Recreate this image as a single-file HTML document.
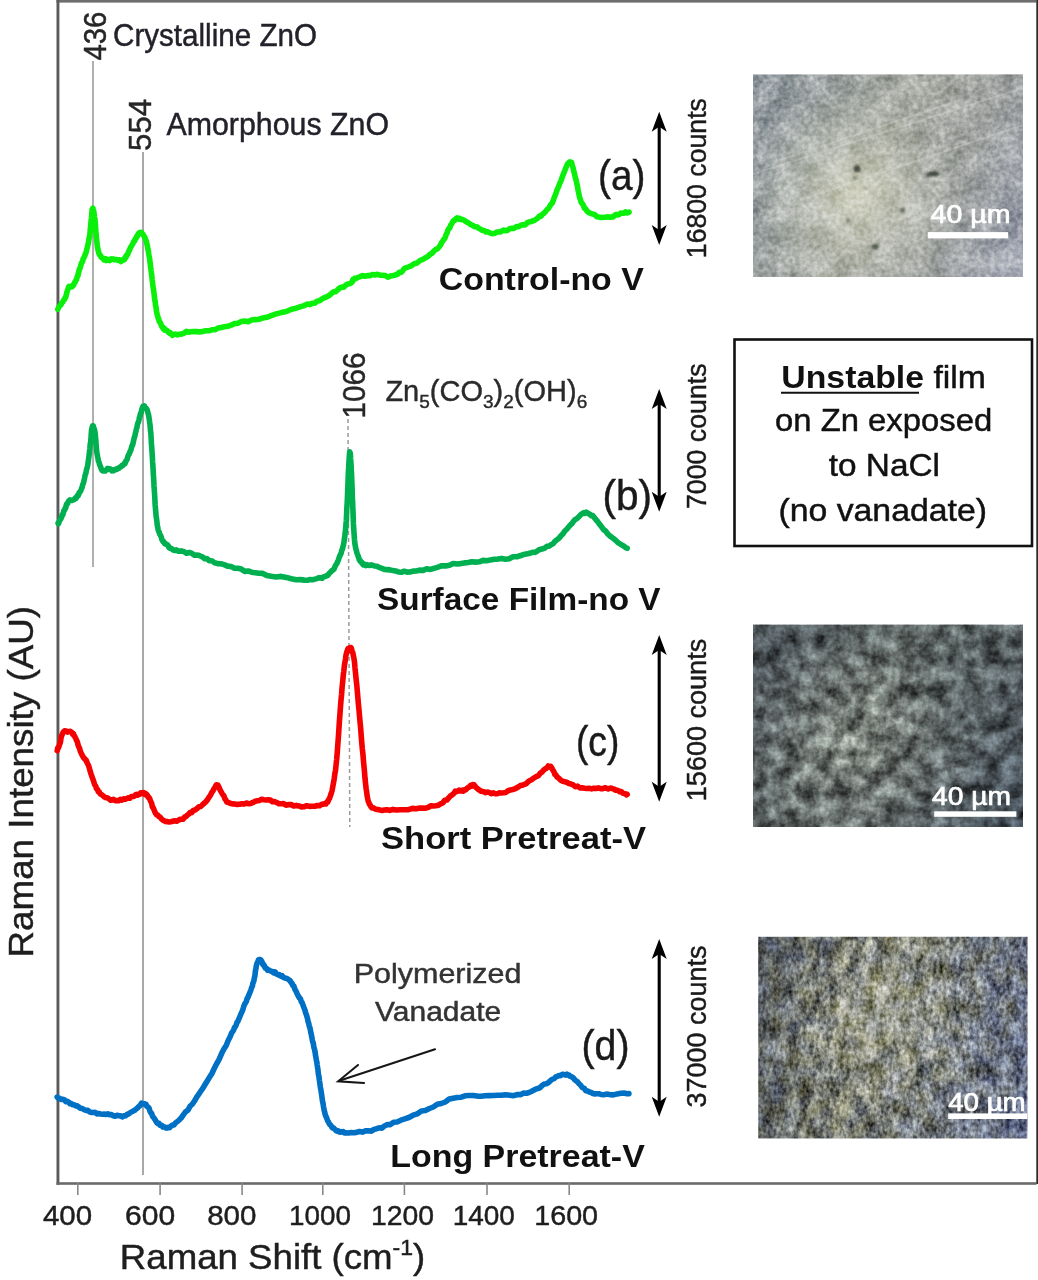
<!DOCTYPE html>
<html><head><meta charset="utf-8"><style>
html,body{margin:0;padding:0;background:#fff;}
svg{display:block;filter:blur(0.45px);}
text{font-family:"Liberation Sans",sans-serif;}
</style></head><body>
<svg width="1038" height="1280" viewBox="0 0 1038 1280">
<defs>
<linearGradient id="g1" gradientUnits="userSpaceOnUse" x1="753" y1="120" x2="1023" y2="230">
<stop offset="0" stop-color="#939ba0"/><stop offset="0.45" stop-color="#a5a8a0"/><stop offset="0.75" stop-color="#a2a5a3"/><stop offset="1" stop-color="#9da1ad"/></linearGradient>
<radialGradient id="l1" gradientUnits="userSpaceOnUse" cx="855" cy="195" r="110">
<stop offset="0" stop-color="#dcdcc6" stop-opacity="0.75"/><stop offset="0.6" stop-color="#d0d2c2" stop-opacity="0.35"/><stop offset="1" stop-color="#c8cac0" stop-opacity="0"/></radialGradient>
<linearGradient id="g2" gradientUnits="userSpaceOnUse" x1="753" y1="640" x2="1023" y2="810">
<stop offset="0" stop-color="#4c5459"/><stop offset="0.4" stop-color="#5c6462"/><stop offset="0.7" stop-color="#555d5f"/><stop offset="1" stop-color="#48525b"/></linearGradient>
<radialGradient id="l2" gradientUnits="userSpaceOnUse" cx="860" cy="745" r="120">
<stop offset="0" stop-color="#a0a498" stop-opacity="0.45"/><stop offset="1" stop-color="#a0a498" stop-opacity="0"/></radialGradient>
<linearGradient id="g3" gradientUnits="userSpaceOnUse" x1="758" y1="1000" x2="1027" y2="1080">
<stop offset="0" stop-color="#575c60"/><stop offset="0.4" stop-color="#77796e"/><stop offset="0.7" stop-color="#717679"/><stop offset="1" stop-color="#687188"/></linearGradient>
<radialGradient id="l3" gradientUnits="userSpaceOnUse" cx="880" cy="1020" r="120">
<stop offset="0" stop-color="#c8c8b0" stop-opacity="0.45"/><stop offset="1" stop-color="#c8c8b0" stop-opacity="0"/></radialGradient>
<filter id="blur1" x="-1" y="-1" width="3" height="3"><feGaussianBlur stdDeviation="1.2"/></filter>
<filter id="f1" x="0" y="0" width="1" height="1" color-interpolation-filters="sRGB">
<feTurbulence type="fractalNoise" baseFrequency="0.04" numOctaves="3" seed="3" result="t1"/>
<feColorMatrix in="t1" type="matrix" values="0.9 0 0 0 0.05  0.9 0 0 0 0.05  0.9 0 0 0 0.05  0 0 0 0 1" result="n1"/>
<feTurbulence type="fractalNoise" baseFrequency="0.22" numOctaves="2" seed="8" result="t2"/>
<feColorMatrix in="t2" type="matrix" values="0.9 0 0 0 0.05  0.9 0 0 0 0.05  0.9 0 0 0 0.05  0 0 0 0 1" result="n2"/>
<feComposite in="n1" in2="n2" operator="arithmetic" k1="0" k2="0.5" k3="0.5" k4="0.0" result="n"/>
<feGaussianBlur in="n" stdDeviation="0.7" result="nb"/>
<feBlend in="nb" in2="SourceGraphic" mode="overlay"/></filter>
<filter id="f2" x="0" y="0" width="1" height="1" color-interpolation-filters="sRGB">
<feTurbulence type="fractalNoise" baseFrequency="0.06" numOctaves="2" seed="8" result="t1"/>
<feColorMatrix in="t1" type="matrix" values="1.8 0 0 0 -0.4  1.8 0 0 0 -0.4  1.8 0 0 0 -0.4  0 0 0 0 1" result="n1"/>
<feTurbulence type="fractalNoise" baseFrequency="0.25" numOctaves="2" seed="13" result="t2"/>
<feColorMatrix in="t2" type="matrix" values="1.0 0 0 0 0.0  1.0 0 0 0 0.0  1.0 0 0 0 0.0  0 0 0 0 1" result="n2"/>
<feComposite in="n1" in2="n2" operator="arithmetic" k1="0" k2="0.55" k3="0.4" k4="0.025" result="n"/>
<feGaussianBlur in="n" stdDeviation="0.6" result="nb"/>
<feBlend in="nb" in2="SourceGraphic" mode="overlay"/></filter>
<filter id="f3" x="0" y="0" width="1" height="1" color-interpolation-filters="sRGB">
<feTurbulence type="fractalNoise" baseFrequency="0.08 0.05" numOctaves="3" seed="12" result="t1"/>
<feColorMatrix in="t1" type="matrix" values="1.4 0 0 0 -0.2  1.4 0 0 0 -0.2  1.4 0 0 0 -0.2  0 0 0 0 1" result="n1"/>
<feTurbulence type="fractalNoise" baseFrequency="0.3 0.22" numOctaves="2" seed="17" result="t2"/>
<feColorMatrix in="t2" type="matrix" values="1.3 0 0 0 -0.15  1.3 0 0 0 -0.15  1.3 0 0 0 -0.15  0 0 0 0 1" result="n2"/>
<feComposite in="n1" in2="n2" operator="arithmetic" k1="0" k2="0.55" k3="0.55" k4="-0.05" result="n"/>
<feGaussianBlur in="n" stdDeviation="0.5" result="nb"/>
<feBlend in="nb" in2="SourceGraphic" mode="overlay" result="b1"/><feTurbulence type="fractalNoise" baseFrequency="0.06" numOctaves="2" seed="41" result="t3"/><feColorMatrix in="t3" type="matrix" values="0.22 0 0 0 0.39  0.14 0 0 0 0.43  -0.28 0 0 0 0.64  0 0 0 0 1" result="c3"/><feBlend in="c3" in2="b1" mode="soft-light"/></filter>
</defs>
<rect width="1038" height="1280" fill="#fff"/>
<rect x="56.5" y="0" width="980" height="2.6" fill="#6e6e6e"/>
<rect x="56.5" y="0" width="2.9" height="1184.8" fill="#5a5a5a"/>
<rect x="56.5" y="1182.2" width="980" height="2.6" fill="#6a6a6a"/>
<rect x="1036.3" y="0" width="1.7" height="1184" fill="#2a2a2a"/>
<line x1="77.8" y1="1183" x2="77.8" y2="1195" stroke="#888" stroke-width="1.6"/>
<line x1="160.1" y1="1183" x2="160.1" y2="1195" stroke="#888" stroke-width="1.6"/>
<line x1="242.1" y1="1183" x2="242.1" y2="1195" stroke="#888" stroke-width="1.6"/>
<line x1="322.8" y1="1183" x2="322.8" y2="1195" stroke="#888" stroke-width="1.6"/>
<line x1="404.4" y1="1183" x2="404.4" y2="1195" stroke="#888" stroke-width="1.6"/>
<line x1="487" y1="1183" x2="487" y2="1195" stroke="#888" stroke-width="1.6"/>
<line x1="569.2" y1="1183" x2="569.2" y2="1195" stroke="#888" stroke-width="1.6"/>
<line x1="93" y1="61" x2="93" y2="567" stroke="#a8a8a8" stroke-width="1.8"/>
<line x1="143" y1="152" x2="143" y2="1175" stroke="#a0a0a0" stroke-width="1.8"/>
<line x1="348" y1="419" x2="349.8" y2="827" stroke="#9a9a9a" stroke-width="1.5" stroke-dasharray="4,3"/>
<polyline points="57.8,309.3 58.1,308.7 58.6,307.5 59.1,306.5 59.7,306.1 60.3,305.1 60.9,304.9 61.5,303.3 62.0,302.8 62.5,302.2 62.9,302.1 63.4,300.8 63.8,299.8 64.3,299.8 64.7,298.9 65.1,297.5 65.5,297.7 65.9,296.7 66.2,295.2 66.6,294.1 66.9,291.8 67.3,291.1 67.6,290.2 68.0,288.8 68.5,287.6 69.0,286.4 69.6,286.5 70.2,286.6 70.8,287.0 71.4,287.0 72.0,286.0 72.6,286.3 73.2,284.8 73.8,284.9 74.3,283.6 74.9,281.8 75.4,281.8 75.9,280.2 76.4,279.7 76.9,278.3 77.3,276.2 77.7,276.0 78.0,275.6 78.2,273.6 78.5,272.7 78.7,272.5 79.0,270.4 79.3,270.0 79.6,268.4 80.0,268.4 80.4,267.0 80.8,265.3 81.3,263.6 81.7,262.8 82.2,261.9 82.7,261.4 83.1,258.9 83.5,258.4 84.0,257.6 84.4,256.3 84.9,255.6 85.3,254.0 85.8,253.5 86.2,251.7 86.6,250.2 87.0,248.5 87.4,247.1 87.8,245.1 88.2,243.7 88.6,241.4 89.0,239.4 89.3,237.5 89.6,236.2 89.9,234.2 90.1,231.6 90.3,228.7 90.5,227.4 90.7,225.2 90.9,223.1 91.1,220.8 91.3,219.0 91.5,217.3 91.7,214.8 91.8,212.8 92.0,211.7 92.1,209.6 92.3,209.4 92.5,208.7 92.7,208.5 92.9,208.3 93.2,209.5 93.4,210.0 93.7,211.1 94.0,213.0 94.3,215.3 94.5,217.1 94.8,218.9 95.0,219.9 95.3,223.3 95.5,225.9 95.7,229.1 95.9,232.4 96.2,234.2 96.4,237.6 96.6,238.9 96.8,241.0 97.0,243.7 97.2,244.6 97.4,246.8 97.6,247.0 97.8,248.4 98.1,250.5 98.4,250.6 98.7,252.5 99.1,254.0 99.5,254.3 99.9,255.4 100.3,255.1 100.8,256.7 101.3,257.3 101.9,257.8 102.5,258.0 103.2,258.4 103.9,259.8 104.7,258.5 105.4,258.8 106.2,260.5 107.0,259.4 107.7,259.4 108.4,259.6 109.1,260.5 109.8,260.6 110.5,259.1 111.2,259.6 112.0,258.9 112.8,259.1 113.6,259.1 114.5,259.8 115.6,259.6 116.7,259.5 117.8,260.3 118.9,259.8 119.9,260.1 120.9,261.5 121.8,260.1 122.6,260.1 123.2,260.3 123.8,260.0 124.4,259.6 124.9,257.7 125.4,257.8 125.9,257.5 126.5,255.2 127.1,255.2 127.7,254.4 128.3,252.4 128.8,251.1 129.4,250.4 130.0,248.9 130.6,247.2 131.2,246.6 131.8,245.4 132.4,244.5 133.0,243.4 133.5,242.0 134.1,241.0 134.7,240.8 135.3,238.9 135.9,238.5 136.5,236.7 137.1,236.9 137.7,235.2 138.3,233.8 138.8,233.4 139.4,232.7 140.0,233.4 140.6,232.3 141.2,232.3 141.8,232.7 142.4,234.2 143.0,234.3 143.6,235.2 144.1,236.3 144.7,237.0 145.2,238.3 145.7,240.1 146.2,240.7 146.7,242.8 147.1,245.0 147.6,246.9 148.0,249.6 148.4,251.3 148.8,254.2 149.1,255.8 149.5,257.7 149.8,259.9 150.0,262.6 150.3,264.4 150.6,267.0 150.8,268.3 151.1,271.1 151.4,273.0 151.7,275.1 152.0,277.8 152.2,280.0 152.5,282.3 152.8,284.8 153.1,287.2 153.4,288.8 153.7,290.7 154.0,293.3 154.3,296.1 154.6,298.5 154.9,300.7 155.2,301.8 155.5,305.2 155.8,306.5 156.1,307.4 156.3,310.0 156.6,312.0 156.8,312.5 157.1,314.3 157.4,315.1 157.7,316.2 158.1,318.3 158.6,318.5 159.1,321.1 159.6,321.9 160.2,322.5 160.8,323.7 161.5,325.7 162.1,327.1 162.8,327.0 163.5,329.0 164.2,328.3 164.9,330.2 165.7,330.0 166.4,330.0 167.2,330.8 168.0,331.6 168.7,332.6 169.4,333.2 170.0,332.5 170.5,333.6 171.1,334.3 171.7,334.2 172.5,335.3 173.4,334.6 174.5,334.2 175.8,334.1 177.3,334.9 178.8,334.2 180.5,334.3 182.4,333.8 184.3,333.2 186.4,331.3 188.7,332.1 191.1,331.8 193.8,331.6 196.6,331.6 199.5,331.9 202.5,331.4 205.6,330.8 208.7,330.8 211.8,329.8 214.9,329.8 218.0,328.1 221.2,327.4 224.5,326.7 227.8,326.3 231.1,325.2 234.5,323.6 237.9,323.2 241.3,321.5 244.7,321.1 248.2,321.8 251.6,320.1 255.2,319.6 258.9,319.2 262.8,318.0 266.8,317.3 271.2,315.7 276.1,313.9 281.2,312.6 286.4,311.5 291.5,309.2 296.3,308.2 300.6,306.6 304.3,305.6 307.3,304.1 309.8,304.6 311.8,303.3 313.5,303.4 315.1,303.0 316.6,301.4 318.2,301.0 320.0,300.5 321.9,299.1 323.9,297.8 325.8,297.3 327.7,296.3 329.6,295.1 331.6,293.4 333.5,291.8 335.4,291.7 337.4,290.1 339.5,288.1 341.7,287.1 343.8,287.2 345.9,285.1 347.8,284.1 349.4,283.8 350.8,283.2 351.7,282.4 352.3,281.8 352.5,281.4 352.6,280.9 352.7,280.0 353.0,279.4 353.6,279.9 354.7,278.2 356.2,278.5 358.1,277.3 360.2,276.6 362.5,275.6 365.0,276.3 367.5,275.6 370.0,275.6 372.4,274.6 374.8,275.0 377.4,274.3 380.0,275.2 382.6,275.3 385.2,275.5 387.8,277.2 390.2,276.1 392.4,275.7 394.4,275.3 396.1,274.8 397.7,274.1 399.2,272.3 400.8,272.4 402.4,271.2 404.2,268.5 406.3,267.6 408.7,266.8 411.3,265.8 414.2,263.7 417.1,263.0 420.0,260.5 422.9,259.3 425.5,257.7 427.9,256.5 430.1,254.2 432.1,253.2 434.0,250.9 435.8,249.4 437.4,248.8 439.0,247.0 440.4,245.2 441.7,242.4 442.8,241.0 443.7,239.6 444.5,238.8 445.2,237.4 445.8,235.5 446.4,234.1 447.1,232.8 447.9,230.1 448.8,228.6 449.7,228.2 450.7,225.2 451.7,223.8 452.6,222.0 453.6,220.5 454.6,220.7 455.6,219.0 456.5,218.2 457.3,217.8 458.1,218.5 459.0,219.1 459.8,218.5 460.8,219.5 462.0,219.3 463.3,219.9 464.9,220.8 466.6,221.9 468.6,222.9 470.6,224.5 472.7,225.4 474.7,226.8 476.8,226.8 478.7,228.3 480.6,229.2 482.4,230.4 484.2,230.6 486.0,231.9 487.8,231.9 489.6,232.7 491.4,233.5 493.2,233.6 495.0,233.3 496.7,232.1 498.5,232.0 500.2,232.0 502.0,231.0 503.8,230.1 505.7,230.8 507.6,230.3 509.7,228.7 511.8,228.3 514.0,228.4 516.3,226.6 518.6,226.8 520.8,225.3 522.9,224.8 525.0,224.9 527.0,222.9 528.9,222.0 530.7,221.7 532.6,220.9 534.3,220.5 536.1,219.2 537.8,218.1 539.4,216.0 541.0,216.2 542.6,214.1 544.1,213.1 545.6,211.5 547.0,209.5 548.4,208.6 549.7,206.4 551.0,204.3 552.2,203.0 553.3,200.5 554.4,197.0 555.4,194.9 556.5,191.7 557.5,188.9 558.6,186.6 559.7,183.4 560.9,181.0 562.2,177.3 563.6,173.6 564.9,170.4 566.3,166.8 567.6,163.9 568.7,162.9 569.8,161.9 570.7,162.3 571.5,162.2 572.3,165.2 572.9,167.2 573.5,170.0 574.2,172.7 574.8,175.2 575.5,178.1 576.2,180.4 576.8,183.9 577.5,186.2 578.1,190.6 578.8,193.4 579.5,197.1 580.4,199.5 581.3,202.6 582.3,203.5 583.4,205.4 584.6,208.4 585.8,209.2 587.1,211.1 588.5,212.4 589.9,213.0 591.4,213.8 593.0,214.1 594.8,214.7 596.6,216.5 598.6,217.1 600.5,217.4 602.4,217.5 604.2,217.3 605.9,217.2 607.5,216.8 609.0,217.1 610.5,217.0 611.9,217.1 613.3,216.7 614.7,215.3 616.1,214.4 617.5,215.0 619.0,214.6 620.7,213.1 622.3,213.3 624.0,213.3 625.5,211.8 626.9,212.9 628.1,212.7 629.0,212.1" fill="none" stroke="#0af00a" stroke-width="5.6" stroke-linejoin="round" stroke-linecap="round"/>
<polyline points="58.1,523.2 58.4,523.8 58.8,522.9 59.3,521.1 59.8,520.5 60.4,519.4 60.9,518.6 61.4,517.8 61.9,515.7 62.3,514.6 62.7,515.0 63.1,513.4 63.4,513.0 63.8,510.8 64.2,510.6 64.6,510.1 65.0,508.4 65.4,508.5 65.9,507.4 66.3,505.0 66.8,503.9 67.3,503.7 67.7,503.4 68.3,501.8 68.8,500.8 69.4,500.7 70.0,499.9 70.6,500.1 71.3,500.4 71.9,500.5 72.6,500.0 73.2,499.9 73.8,499.6 74.4,499.5 74.9,498.7 75.5,497.7 76.0,498.4 76.6,497.3 77.1,496.7 77.6,495.3 78.1,495.8 78.6,494.8 79.1,492.8 79.6,492.3 80.1,492.0 80.5,491.0 81.0,490.4 81.5,488.5 81.9,488.0 82.3,486.6 82.7,484.7 83.1,483.8 83.5,482.9 83.9,481.4 84.2,479.4 84.6,478.0 85.0,475.6 85.4,474.3 85.8,473.6 86.2,471.4 86.6,469.3 87.0,468.2 87.4,466.7 87.8,464.8 88.1,462.3 88.4,460.3 88.7,458.2 89.0,456.2 89.3,453.4 89.6,450.8 89.9,448.5 90.1,445.4 90.4,443.1 90.7,441.7 90.9,439.6 91.1,436.3 91.3,433.3 91.5,430.5 91.8,429.0 92.0,428.1 92.3,426.7 92.6,425.9 92.9,426.4 93.3,425.9 93.6,427.1 94.0,428.8 94.4,429.5 94.7,430.8 95.0,432.1 95.3,434.5 95.5,437.5 95.7,438.6 96.0,442.6 96.2,445.5 96.4,448.4 96.6,450.7 96.9,453.0 97.2,454.4 97.5,456.1 97.7,457.4 98.0,458.2 98.3,460.8 98.7,461.6 99.0,462.1 99.4,463.8 99.8,465.0 100.2,465.9 100.7,467.1 101.1,468.5 101.6,469.6 102.1,470.4 102.6,470.8 103.1,470.5 103.6,471.0 104.1,470.8 104.6,471.0 105.2,471.0 105.7,470.3 106.3,469.8 106.9,469.5 107.5,468.4 108.1,469.4 108.8,469.3 109.5,468.7 110.2,468.9 110.9,469.3 111.7,470.8 112.4,470.2 113.1,470.0 113.8,470.7 114.5,470.1 115.2,469.4 115.9,469.2 116.7,469.4 117.4,468.4 118.1,468.2 118.8,468.4 119.5,467.6 120.2,467.0 121.0,466.8 121.7,465.6 122.4,465.6 123.1,465.1 123.8,464.1 124.4,463.2 125.0,463.6 125.6,462.0 126.1,460.5 126.7,460.1 127.2,459.3 127.7,456.8 128.3,455.5 128.8,454.4 129.3,454.0 129.9,451.7 130.4,451.1 131.0,449.6 131.5,447.8 132.0,445.6 132.6,445.1 133.1,443.0 133.6,440.6 134.2,437.9 134.8,436.4 135.3,433.7 135.9,431.6 136.4,428.9 137.0,427.2 137.5,424.3 138.0,422.7 138.5,421.9 139.0,419.8 139.5,417.1 140.0,416.2 140.4,413.7 140.9,413.3 141.3,411.7 141.7,410.1 142.0,408.8 142.4,407.6 142.7,408.2 143.0,406.3 143.3,407.2 143.6,407.1 144.0,406.4 144.4,405.9 144.8,407.2 145.3,407.8 145.8,408.0 146.2,408.4 146.7,409.0 147.1,409.9 147.5,410.8 147.9,412.8 148.2,413.7 148.5,414.8 148.8,416.3 149.2,418.9 149.4,420.3 149.7,422.7 150.0,424.7 150.3,428.1 150.5,430.9 150.8,432.5 151.0,435.9 151.2,439.4 151.4,443.8 151.7,446.9 151.9,449.7 152.1,453.2 152.4,457.7 152.6,461.9 152.9,466.1 153.1,469.2 153.3,474.1 153.6,477.8 153.8,481.3 154.0,485.9 154.2,488.5 154.5,493.0 154.7,495.8 154.9,499.5 155.1,504.2 155.3,506.4 155.6,510.4 155.9,513.0 156.1,516.1 156.4,517.9 156.7,520.2 157.0,522.4 157.3,525.5 157.7,527.0 158.1,529.5 158.6,531.2 159.1,531.7 159.6,533.9 160.1,534.6 160.7,535.8 161.3,537.1 161.9,539.5 162.5,540.5 163.1,541.5 163.7,541.6 164.2,542.7 164.8,543.7 165.5,543.6 166.1,544.5 166.8,544.6 167.5,544.9 168.2,545.8 168.8,547.4 169.4,547.4 170.0,548.5 170.8,548.3 171.7,548.6 172.9,549.9 174.4,550.5 176.3,549.8 178.6,551.3 181.1,550.9 183.8,551.5 186.6,553.3 189.4,552.5 192.0,553.4 194.5,555.3 196.7,555.1 198.8,555.3 200.8,556.2 202.8,557.1 204.8,558.8 206.9,558.6 209.2,560.8 211.8,560.8 214.6,562.7 217.6,563.6 220.8,563.7 224.1,564.6 227.5,566.1 231.0,566.5 234.4,568.3 237.9,568.3 241.3,569.1 244.7,571.4 248.2,571.0 251.6,572.2 255.2,572.7 258.9,573.2 262.8,573.4 266.8,575.5 271.2,576.3 276.0,577.0 281.1,576.4 286.3,577.4 291.3,578.7 296.1,579.8 300.5,579.6 304.3,580.1 307.5,580.2 310.3,579.5 312.7,579.7 314.9,579.1 316.8,578.6 318.6,577.9 320.3,577.7 322.0,578.3 323.7,576.8 325.2,576.5 326.6,575.7 327.9,575.3 329.0,573.6 330.2,572.5 331.2,571.4 332.3,570.3 333.3,569.9 334.2,568.7 335.1,566.3 335.9,564.9 336.7,563.7 337.4,562.2 338.1,560.7 338.8,558.6 339.4,556.8 340.0,555.7 340.6,554.1 341.1,553.4 341.6,551.2 342.0,549.7 342.5,549.0 342.9,546.7 343.3,545.7 343.7,543.4 344.0,542.1 344.3,539.1 344.6,537.5 344.9,535.8 345.2,532.1 345.5,530.7 345.8,526.3 346.0,523.9 346.3,520.5 346.5,516.3 346.7,511.5 346.9,507.2 347.1,503.9 347.3,500.7 347.5,495.8 347.6,492.8 347.8,487.6 347.9,484.9 348.1,479.6 348.2,476.4 348.3,473.8 348.5,470.5 348.7,467.6 348.8,464.4 349.0,461.2 349.2,458.3 349.4,455.1 349.5,453.6 349.7,451.9 349.9,452.3 350.1,452.7 350.3,453.3 350.4,454.9 350.6,458.7 350.8,461.3 351.0,463.9 351.1,467.0 351.3,470.6 351.5,473.1 351.6,476.5 351.8,480.1 351.9,483.9 352.1,487.5 352.2,492.5 352.3,496.0 352.5,500.1 352.7,503.1 352.8,507.6 353.0,511.2 353.1,515.2 353.3,519.3 353.4,523.9 353.6,526.7 353.8,529.8 354.0,533.0 354.1,534.9 354.3,536.8 354.5,539.7 354.7,541.6 354.9,543.6 355.2,545.1 355.5,547.3 355.9,549.2 356.3,550.1 356.7,552.1 357.2,553.7 357.7,554.8 358.2,556.4 358.8,557.9 359.3,559.7 359.8,560.7 360.3,560.6 360.7,562.0 361.2,561.7 361.8,562.4 362.4,563.6 363.1,564.7 364.0,564.0 365.0,565.2 366.0,565.6 367.2,564.7 368.4,565.3 369.7,565.5 371.2,564.8 372.9,565.5 374.8,565.9 376.9,566.2 379.2,567.4 381.8,568.3 384.4,569.4 387.2,569.6 390.0,569.9 392.9,570.6 395.7,571.0 398.5,571.9 401.3,572.3 404.2,571.2 407.1,572.1 410.1,572.0 413.1,571.1 416.3,571.0 419.6,570.1 423.1,570.4 426.7,568.7 430.4,569.4 434.2,568.3 438.0,567.1 441.9,565.7 445.7,565.9 449.5,565.3 453.2,563.5 457.0,564.0 460.7,563.6 464.4,562.9 468.1,562.5 471.8,561.7 475.6,562.1 479.3,561.8 483.0,560.4 486.8,560.8 490.5,559.9 494.2,559.2 498.0,559.1 501.7,558.4 505.5,559.2 509.2,558.7 513.0,556.7 517.0,556.7 520.9,555.5 524.9,554.2 528.8,553.5 532.5,552.4 535.9,552.1 539.1,549.8 541.9,549.0 544.5,548.3 546.8,546.4 549.0,546.2 551.0,544.8 553.0,543.8 555.0,541.3 557.0,539.8 559.0,538.3 561.0,535.7 562.9,533.9 564.8,531.0 566.7,529.3 568.4,527.2 570.2,525.1 571.9,523.6 573.6,521.2 575.2,519.5 576.7,518.7 578.3,517.2 579.8,515.7 581.2,514.3 582.6,513.4 583.9,512.6 585.1,513.4 586.2,512.1 587.2,513.1 588.2,513.1 589.2,514.2 590.2,514.5 591.4,515.8 592.8,515.6 594.4,517.7 596.0,519.8 597.8,521.7 599.6,524.4 601.6,526.8 603.6,529.6 605.7,531.1 607.8,534.0 610.1,536.1 612.8,538.0 615.6,540.2 618.4,542.9 621.2,544.6 623.6,546.0 625.7,547.6 627.2,548.3" fill="none" stroke="#00b050" stroke-width="5.6" stroke-linejoin="round" stroke-linecap="round"/>
<polyline points="57.2,750.7 57.4,750.2 57.7,748.1 58.1,747.4 58.5,747.7 58.9,746.5 59.3,745.4 59.7,743.8 60.1,743.2 60.4,742.0 60.7,740.6 60.9,738.5 61.2,737.5 61.5,736.1 61.8,735.3 62.1,734.7 62.5,733.7 63.0,732.5 63.5,731.9 64.0,731.3 64.6,730.8 65.2,730.7 65.8,731.4 66.4,731.2 67.0,731.3 67.6,732.1 68.2,731.6 68.9,731.8 69.5,731.4 70.2,731.3 70.8,732.0 71.4,732.0 72.0,733.0 72.5,734.2 73.0,734.1 73.5,733.8 74.0,735.5 74.4,736.0 74.9,736.7 75.4,737.9 76.0,738.9 76.6,740.5 77.3,741.7 78.0,744.8 78.8,747.0 79.5,748.0 80.3,751.1 81.1,753.0 81.8,754.3 82.5,755.8 83.2,756.8 83.9,758.3 84.6,758.4 85.3,759.7 86.1,760.0 86.8,762.1 87.6,763.7 88.4,765.2 89.3,768.0 90.2,771.4 91.1,774.2 92.0,776.8 93.0,779.4 93.9,782.2 94.8,785.0 95.7,786.0 96.5,788.8 97.4,789.2 98.2,791.5 99.1,791.7 100.0,793.7 101.0,794.3 102.0,794.9 103.1,795.8 104.3,796.9 105.4,797.5 106.7,797.7 108.0,798.1 109.3,799.1 110.7,800.2 112.1,800.0 113.6,799.3 115.2,800.6 116.8,800.5 118.5,800.7 120.2,799.4 121.9,800.1 123.5,798.8 125.1,799.4 126.6,798.5 128.2,797.9 129.7,798.3 131.3,796.5 132.7,796.5 134.1,796.4 135.5,794.9 136.7,794.4 137.8,795.1 138.8,794.0 139.8,794.2 140.7,792.8 141.5,793.1 142.3,792.7 143.1,793.5 143.9,792.7 144.7,794.4 145.4,793.4 146.2,795.1 146.9,794.6 147.6,795.7 148.3,797.5 149.0,797.5 149.7,798.7 150.4,800.9 151.0,802.0 151.7,803.3 152.3,806.8 153.0,807.4 153.7,809.0 154.6,811.3 155.5,813.2 156.5,814.7 157.6,815.0 158.8,816.5 160.0,817.1 161.3,818.7 162.7,820.0 164.1,820.7 165.6,821.4 167.2,821.6 169.0,822.0 170.8,821.8 172.8,821.3 174.7,820.8 176.6,821.2 178.4,820.2 180.1,819.4 181.7,819.3 183.1,819.2 184.5,817.0 185.8,816.7 187.2,815.3 188.6,814.3 190.0,812.6 191.6,812.7 193.3,810.5 195.1,810.0 197.0,808.6 198.9,806.8 200.9,806.5 202.7,804.5 204.5,803.0 206.1,801.4 207.6,799.6 209.0,797.2 210.4,795.4 211.7,792.6 212.9,790.9 214.1,788.6 215.2,787.0 216.2,784.9 217.1,785.0 217.9,785.1 218.6,786.6 219.3,787.9 219.9,789.6 220.6,791.0 221.2,791.7 222.0,793.3 222.8,794.7 223.5,795.2 224.2,796.7 224.9,798.8 225.7,799.7 226.7,802.0 227.8,802.3 229.2,802.9 230.9,803.5 232.8,803.9 234.9,804.0 237.2,804.4 239.6,804.2 241.9,803.7 244.3,804.0 246.5,803.0 248.7,803.8 250.8,803.4 253.0,802.4 255.2,801.3 257.4,800.8 259.6,800.4 261.7,799.2 263.9,799.7 266.0,800.0 268.2,799.7 270.3,800.0 272.4,801.7 274.5,801.6 276.7,802.5 278.9,803.7 281.2,803.7 283.6,803.6 286.0,805.2 288.6,804.6 291.1,804.5 293.7,806.0 296.3,805.4 298.9,805.9 301.4,806.9 304.0,806.8 306.7,805.7 309.5,806.4 312.3,806.3 314.9,806.2 317.4,805.5 319.7,805.7 321.7,804.3 323.4,804.1 324.7,803.7 325.9,804.0 326.9,801.9 327.8,802.0 328.6,799.8 329.4,798.7 330.3,796.1 331.2,793.5 332.0,791.0 332.7,787.0 333.5,782.9 334.2,778.7 334.8,774.1 335.5,770.4 336.1,764.7 336.7,759.2 337.3,751.9 337.9,743.4 338.4,736.7 338.9,729.0 339.4,721.2 340.0,713.5 340.5,706.5 341.0,700.2 341.6,694.3 342.1,687.2 342.7,681.6 343.2,675.8 343.8,671.3 344.3,666.3 344.9,662.5 345.5,658.9 346.0,655.1 346.6,652.6 347.1,651.1 347.7,649.3 348.3,648.4 348.8,648.1 349.4,648.2 350.0,647.6 350.5,648.2 351.1,647.7 351.6,649.2 352.2,651.8 352.8,652.5 353.3,655.5 353.9,658.1 354.5,662.1 355.0,668.1 355.6,673.7 356.1,679.0 356.7,684.3 357.3,690.9 357.8,697.1 358.4,703.9 359.0,710.0 359.5,716.0 360.1,722.6 360.7,728.6 361.2,735.8 361.8,742.9 362.3,748.8 362.9,753.8 363.4,760.3 364.0,766.5 364.5,771.7 365.0,778.4 365.5,783.0 366.1,788.4 366.7,792.3 367.3,797.0 367.9,799.7 368.4,801.7 369.0,802.8 369.6,804.6 370.2,805.0 371.0,806.8 372.0,808.0 373.3,807.7 374.8,808.9 376.4,809.4 378.1,809.5 380.0,810.1 382.1,810.5 384.4,810.1 386.9,809.7 389.7,810.4 392.9,809.4 396.4,810.0 400.3,809.7 404.4,809.7 408.5,809.7 412.4,808.4 416.2,808.7 419.6,808.0 422.7,808.1 425.6,808.2 428.4,807.3 431.0,805.8 433.5,806.0 435.9,805.8 438.2,805.3 440.5,803.9 442.7,803.0 444.8,800.2 446.8,800.0 448.7,797.9 450.5,795.9 452.2,794.8 453.9,793.4 455.4,791.1 456.8,791.5 458.1,791.1 459.2,790.1 460.3,791.0 461.3,790.8 462.3,790.2 463.3,791.1 464.4,789.7 465.5,789.9 466.5,788.9 467.5,787.8 468.6,787.4 469.6,786.4 470.6,785.3 471.7,786.1 472.8,784.5 473.9,784.7 475.0,786.1 476.0,787.5 477.1,788.3 478.3,789.5 479.5,790.1 480.8,791.3 482.3,791.4 483.9,791.8 485.6,792.6 487.4,792.1 489.3,792.5 491.2,793.7 493.2,792.8 495.2,793.7 497.3,793.7 499.4,792.8 501.5,793.0 503.7,792.8 505.9,792.4 508.1,790.7 510.4,790.0 512.8,789.6 515.2,788.7 517.7,787.3 520.4,785.5 523.1,784.9 525.9,783.9 528.7,781.3 531.3,779.9 533.8,778.1 536.1,776.7 538.2,775.9 540.1,773.3 541.9,772.1 543.6,770.2 545.2,768.8 546.7,768.2 548.2,766.0 549.5,766.9 550.7,766.4 551.7,767.9 552.5,769.4 553.3,770.8 554.1,772.1 554.9,774.5 555.9,774.9 557.0,777.0 558.2,777.7 559.5,778.9 560.9,780.3 562.4,781.1 563.9,781.6 565.5,781.9 567.2,782.5 569.0,783.6 571.0,784.0 573.1,784.9 575.3,786.7 577.6,786.1 579.9,787.9 582.3,787.8 584.6,788.2 586.9,788.5 589.2,788.3 591.5,788.9 593.9,788.2 596.2,788.4 598.5,787.9 600.7,788.7 602.8,788.6 604.8,787.8 606.6,788.3 608.2,788.9 609.8,788.2 611.2,788.1 612.6,788.7 614.0,789.0 615.3,790.2 616.7,790.1 618.2,790.6 619.7,791.8 621.2,791.6 622.7,793.1 624.1,793.5 625.3,793.7 626.4,794.9 627.2,794.4" fill="none" stroke="#f50000" stroke-width="5.6" stroke-linejoin="round" stroke-linecap="round"/>
<polyline points="57.2,1097.1 58.0,1097.9 59.0,1098.0 60.2,1098.9 61.5,1099.5 63.0,1099.2 64.4,1099.8 65.9,1101.7 67.3,1101.4 68.7,1102.0 70.0,1103.8 71.4,1103.6 72.8,1104.8 74.3,1104.9 75.8,1105.9 77.3,1105.8 78.9,1107.2 80.6,1108.3 82.3,1108.6 84.1,1109.7 86.0,1110.4 87.8,1110.2 89.7,1112.1 91.6,1112.4 93.4,1112.5 95.2,1112.4 97.0,1114.0 98.8,1113.5 100.6,1114.0 102.4,1114.3 104.2,1114.1 106.0,1114.5 107.8,1113.8 109.6,1114.8 111.5,1114.6 113.4,1115.8 115.2,1116.2 117.1,1115.3 118.9,1115.7 120.6,1115.9 122.3,1117.0 123.9,1115.9 125.5,1115.7 127.0,1114.5 128.4,1114.0 129.8,1113.0 131.2,1112.0 132.5,1111.5 133.8,1110.6 135.0,1110.2 136.2,1108.8 137.4,1108.1 138.5,1106.8 139.6,1106.0 140.6,1104.6 141.6,1103.1 142.5,1103.9 143.4,1104.0 144.1,1104.0 144.8,1103.8 145.5,1104.5 146.1,1104.4 146.8,1106.2 147.5,1106.7 148.3,1107.3 149.1,1108.2 149.9,1111.0 150.8,1112.9 151.6,1113.3 152.5,1116.3 153.5,1117.4 154.5,1118.7 155.5,1120.3 156.6,1122.3 157.8,1123.6 159.0,1123.4 160.3,1125.3 161.6,1125.2 162.9,1127.0 164.2,1126.8 165.6,1127.9 166.9,1128.1 168.3,1127.2 169.6,1127.7 170.9,1126.2 172.4,1125.1 173.9,1125.0 175.5,1122.9 177.2,1121.6 179.1,1120.1 181.1,1118.1 183.3,1114.9 185.5,1111.9 187.8,1110.3 190.0,1106.3 192.3,1104.2 194.5,1101.0 196.7,1097.1 198.8,1094.1 200.9,1091.0 203.1,1087.8 205.2,1084.3 207.4,1080.7 209.6,1077.1 211.8,1073.7 214.1,1068.8 216.5,1064.0 219.0,1059.6 221.5,1053.8 223.9,1049.0 226.2,1045.5 228.2,1040.5 230.0,1037.0 231.5,1033.2 232.7,1031.5 233.7,1029.8 234.6,1027.3 235.3,1026.7 236.1,1025.2 236.9,1022.6 237.8,1021.5 238.8,1019.0 239.8,1016.9 240.9,1013.9 241.9,1011.9 242.9,1009.5 243.9,1006.0 244.8,1003.8 245.6,1002.8 246.3,1001.5 247.0,998.9 247.6,997.8 248.2,996.8 248.7,995.2 249.3,994.0 249.8,992.7 250.3,991.4 250.8,990.3 251.4,988.3 251.9,986.9 252.4,985.9 252.9,983.1 253.3,982.4 253.8,981.0 254.2,978.7 254.6,976.8 254.9,975.9 255.2,973.1 255.4,971.1 255.7,969.6 256.0,968.3 256.3,965.7 256.6,964.7 256.9,963.6 257.3,963.3 257.7,961.7 258.1,961.6 258.4,959.9 258.9,959.6 259.3,959.8 259.7,960.1 260.1,959.6 260.6,959.7 261.1,960.2 261.6,961.7 262.1,962.0 262.6,963.9 263.1,964.8 263.6,964.5 264.1,965.3 264.5,966.8 264.9,967.1 265.3,968.0 265.8,967.8 266.3,968.1 266.8,968.9 267.5,970.2 268.3,969.8 269.2,970.3 270.1,970.8 271.2,971.2 272.2,971.5 273.3,972.7 274.3,971.8 275.3,972.0 276.3,973.9 277.2,974.3 278.2,974.9 279.2,974.5 280.2,975.8 281.2,976.3 282.1,975.7 283.1,977.1 284.1,977.8 285.0,978.0 286.0,978.3 287.0,978.5 288.0,979.2 288.9,979.8 289.9,980.4 290.9,982.3 291.9,983.2 292.9,985.6 293.9,986.1 294.9,989.3 295.9,990.9 296.9,993.2 297.8,995.1 298.8,996.9 299.6,998.1 300.5,998.9 301.3,1001.8 302.1,1002.6 302.8,1004.5 303.6,1006.8 304.3,1008.4 305.0,1010.2 305.7,1013.0 306.3,1014.6 306.9,1016.4 307.5,1018.5 308.1,1021.7 308.7,1023.3 309.2,1025.9 309.7,1027.3 310.2,1028.9 310.6,1031.3 311.0,1033.5 311.3,1034.1 311.7,1036.8 312.1,1038.7 312.4,1040.3 312.8,1042.1 313.2,1042.7 313.6,1045.6 314.0,1047.9 314.4,1048.6 314.8,1050.9 315.2,1052.9 315.5,1055.3 315.9,1057.1 316.2,1059.1 316.6,1061.5 316.9,1062.3 317.1,1064.3 317.4,1066.4 317.7,1068.3 318.0,1070.2 318.3,1073.6 318.6,1075.3 318.9,1076.0 319.2,1078.7 319.4,1080.3 319.7,1082.3 320.0,1084.3 320.3,1086.7 320.6,1088.5 320.9,1090.1 321.2,1091.9 321.5,1094.1 321.8,1095.8 322.1,1098.5 322.4,1100.7 322.7,1102.0 323.0,1103.3 323.3,1105.2 323.6,1107.2 324.0,1109.2 324.3,1111.1 324.7,1112.0 325.1,1114.2 325.5,1115.4 326.0,1116.5 326.6,1117.8 327.2,1119.4 327.8,1121.1 328.5,1122.0 329.2,1123.7 330.0,1124.6 330.8,1125.3 331.6,1126.8 332.5,1127.9 333.4,1127.7 334.3,1128.9 335.2,1129.5 336.2,1130.8 337.3,1131.3 338.3,1130.8 339.4,1132.0 340.4,1132.2 341.4,1131.6 342.3,1132.1 343.3,1131.7 344.5,1132.9 345.8,1132.7 347.3,1133.0 349.1,1132.9 351.3,1132.6 353.8,1132.7 356.5,1132.4 359.4,1131.5 362.4,1132.1 365.5,1130.9 368.4,1130.8 371.3,1131.2 374.0,1129.4 376.6,1128.7 379.2,1127.8 381.9,1128.1 384.5,1125.9 387.4,1124.5 390.4,1124.6 393.6,1122.2 397.1,1122.0 400.9,1120.2 404.8,1118.9 408.9,1117.5 413.1,1115.2 417.2,1113.9 421.4,1111.0 425.4,1110.5 429.4,1108.5 433.3,1107.0 437.3,1104.2 441.3,1103.5 445.3,1102.0 449.2,1099.1 453.2,1098.2 457.2,1097.5 461.2,1097.2 465.1,1095.8 469.1,1095.5 473.1,1095.5 477.1,1096.1 481.1,1096.3 485.0,1095.8 489.0,1095.6 493.1,1095.5 497.2,1095.3 501.5,1095.3 505.7,1094.7 509.8,1095.2 513.7,1095.7 517.4,1094.5 520.8,1094.6 523.8,1093.1 526.5,1093.2 529.0,1092.5 531.3,1091.5 533.5,1090.3 535.6,1089.2 537.8,1088.5 539.9,1087.8 542.1,1085.5 544.2,1084.1 546.3,1083.8 548.3,1082.7 550.3,1080.7 552.2,1079.3 554.1,1078.7 555.8,1076.9 557.4,1076.3 559.0,1075.5 560.5,1075.6 561.9,1074.7 563.2,1074.2 564.5,1074.8 565.7,1075.1 566.9,1074.2 568.0,1075.1 569.0,1075.0 569.9,1076.2 570.7,1076.5 571.6,1076.7 572.6,1077.5 573.6,1078.1 574.8,1079.9 576.1,1080.9 577.6,1081.9 579.1,1083.8 580.7,1085.3 582.4,1087.6 584.1,1088.1 585.8,1090.7 587.6,1091.0 589.4,1092.0 591.1,1092.4 592.9,1093.5 594.8,1093.9 596.7,1093.7 598.8,1093.8 601.0,1094.4 603.5,1094.8 606.4,1094.1 609.8,1094.6 613.4,1094.9 617.2,1093.9 620.8,1093.3 624.1,1093.1 626.9,1093.7 628.9,1093.6" fill="none" stroke="#0070c4" stroke-width="5.6" stroke-linejoin="round" stroke-linecap="round"/>
<text transform="translate(106.2,60.6) rotate(-90)" font-size="31" font-weight="normal" fill="#262626" stroke="#262626" stroke-width="0.45" textLength="49" lengthAdjust="spacingAndGlyphs">436</text>
<text transform="translate(151.1,150.9) rotate(-90)" font-size="31" font-weight="normal" fill="#262626" stroke="#262626" stroke-width="0.45" textLength="52.1" lengthAdjust="spacingAndGlyphs">554</text>
<text transform="translate(364.6,418.6) rotate(-90)" font-size="31" font-weight="normal" fill="#262626" stroke="#262626" stroke-width="0.45" textLength="66.3" lengthAdjust="spacingAndGlyphs">1066</text>
<text x="113" y="45.6" font-size="31" font-weight="normal" fill="#22222a" text-anchor="start" textLength="204" lengthAdjust="spacingAndGlyphs" stroke="#22222a" stroke-width="0.45">Crystalline ZnO</text>
<text x="166.5" y="134.6" font-size="31" font-weight="normal" fill="#22222a" text-anchor="start" textLength="222.5" lengthAdjust="spacingAndGlyphs" stroke="#22222a" stroke-width="0.45">Amorphous ZnO</text>
<text x="385.4" y="401.4" font-size="29" fill="#2a2a2a" stroke="#2a2a2a" stroke-width="0.4">Zn<tspan font-size="19" dy="7">5</tspan><tspan dy="-7">(CO</tspan><tspan font-size="19" dy="7">3</tspan><tspan dy="-7">)</tspan><tspan font-size="19" dy="7">2</tspan><tspan dy="-7">(OH)</tspan><tspan font-size="19" dy="7">6</tspan></text>
<text x="438.8" y="290" font-size="32" font-weight="bold" fill="#111" text-anchor="start" textLength="205" lengthAdjust="spacingAndGlyphs" >Control-no V</text>
<text x="377" y="610" font-size="32" font-weight="bold" fill="#111" text-anchor="start" textLength="283.6" lengthAdjust="spacingAndGlyphs" >Surface Film-no V</text>
<text x="381" y="848.5" font-size="32" font-weight="bold" fill="#111" text-anchor="start" textLength="265" lengthAdjust="spacingAndGlyphs" >Short Pretreat-V</text>
<text x="390.2" y="1167" font-size="32" font-weight="bold" fill="#111" text-anchor="start" textLength="254.6" lengthAdjust="spacingAndGlyphs" >Long Pretreat-V</text>
<text x="598.1" y="190" font-size="42" font-weight="normal" fill="#1a1a1a" text-anchor="start" textLength="47.4" lengthAdjust="spacingAndGlyphs" stroke="#1a1a1a" stroke-width="0.45">(a)</text>
<text x="602.5" y="510" font-size="42" font-weight="normal" fill="#1a1a1a" text-anchor="start" textLength="49.6" lengthAdjust="spacingAndGlyphs" stroke="#1a1a1a" stroke-width="0.45">(b)</text>
<text x="576" y="756" font-size="42" font-weight="normal" fill="#1a1a1a" text-anchor="start" textLength="43.3" lengthAdjust="spacingAndGlyphs" stroke="#1a1a1a" stroke-width="0.45">(c)</text>
<text x="581.5" y="1060" font-size="42" font-weight="normal" fill="#1a1a1a" text-anchor="start" textLength="48" lengthAdjust="spacingAndGlyphs" stroke="#1a1a1a" stroke-width="0.45">(d)</text>
<text x="353.8" y="982.9" font-size="27" font-weight="normal" fill="#333" text-anchor="start" textLength="167.6" lengthAdjust="spacingAndGlyphs" stroke="#333" stroke-width="0.45">Polymerized</text>
<text x="375" y="1021" font-size="27" font-weight="normal" fill="#333" text-anchor="start" textLength="126.2" lengthAdjust="spacingAndGlyphs" stroke="#333" stroke-width="0.45">Vanadate</text>
<line x1="435" y1="1049.3" x2="340" y2="1080.6" stroke="#161616" stroke-width="2.1" stroke-linecap="round"/>
<polyline points="358,1065 338.2,1081.3 364,1083" fill="none" stroke="#161616" stroke-width="2.1" stroke-linejoin="miter" stroke-linecap="round"/>
<line x1="659.2" y1="121.8" x2="659.2" y2="235" stroke="#000" stroke-width="3.1"/><path d="M659.2,111.8 L666.7,131.8 L659.2,126.80000000000001 L651.7,131.8 Z" fill="#000"/><path d="M659.2,245 L666.7,225 L659.2,230 L651.7,225 Z" fill="#000"/>
<text transform="translate(705.8,258.2) rotate(-90)" font-size="26.9" font-weight="normal" fill="#1a1a1a" stroke="#1a1a1a" stroke-width="0.45" textLength="160.1" lengthAdjust="spacingAndGlyphs">16800 counts</text>
<line x1="659.2" y1="399" x2="659.2" y2="501.8" stroke="#000" stroke-width="3.1"/><path d="M659.2,389 L666.7,409 L659.2,404 L651.7,409 Z" fill="#000"/><path d="M659.2,511.8 L666.7,491.8 L659.2,496.8 L651.7,491.8 Z" fill="#000"/>
<text transform="translate(705.8,509) rotate(-90)" font-size="26.9" font-weight="normal" fill="#1a1a1a" stroke="#1a1a1a" stroke-width="0.45" textLength="145.6" lengthAdjust="spacingAndGlyphs">7000 counts</text>
<line x1="659.2" y1="644.9" x2="659.2" y2="791.7" stroke="#000" stroke-width="3.1"/><path d="M659.2,634.9 L666.7,654.9 L659.2,649.9 L651.7,654.9 Z" fill="#000"/><path d="M659.2,801.7 L666.7,781.7 L659.2,786.7 L651.7,781.7 Z" fill="#000"/>
<text transform="translate(705.8,801.2) rotate(-90)" font-size="26.9" font-weight="normal" fill="#1a1a1a" stroke="#1a1a1a" stroke-width="0.45" textLength="162.4" lengthAdjust="spacingAndGlyphs">15600 counts</text>
<line x1="659.2" y1="948.9" x2="659.2" y2="1106.8" stroke="#000" stroke-width="3.1"/><path d="M659.2,938.9 L666.7,958.9 L659.2,953.9 L651.7,958.9 Z" fill="#000"/><path d="M659.2,1116.8 L666.7,1096.8 L659.2,1101.8 L651.7,1096.8 Z" fill="#000"/>
<text transform="translate(705.8,1107.4) rotate(-90)" font-size="26.9" font-weight="normal" fill="#1a1a1a" stroke="#1a1a1a" stroke-width="0.45" textLength="161.8" lengthAdjust="spacingAndGlyphs">37000 counts</text>
<rect x="734.5" y="339.5" width="297.5" height="206.5" fill="none" stroke="#111" stroke-width="2.6"/>
<text x="781.3" y="388" font-size="31" fill="#111" textLength="204.7" lengthAdjust="spacingAndGlyphs"><tspan font-weight="bold">Unstable</tspan><tspan stroke="#111" stroke-width="0.45"> film</tspan></text>
<line x1="781" y1="392.8" x2="919" y2="392.8" stroke="#111" stroke-width="2"/>
<text x="775" y="431" font-size="31" font-weight="normal" fill="#111" text-anchor="start" textLength="217.2" lengthAdjust="spacingAndGlyphs" stroke="#111" stroke-width="0.45">on Zn exposed</text>
<text x="828.8" y="475.6" font-size="31" font-weight="normal" fill="#111" text-anchor="start" textLength="111.2" lengthAdjust="spacingAndGlyphs" stroke="#111" stroke-width="0.45">to NaCl</text>
<text x="778.4" y="520.7" font-size="31" font-weight="normal" fill="#111" text-anchor="start" textLength="208.6" lengthAdjust="spacingAndGlyphs" stroke="#111" stroke-width="0.45">(no vanadate)</text>
<clipPath id="cpg1"><rect x="753" y="74.6" width="270" height="202.4"/></clipPath><g clip-path="url(#cpg1)"><g filter="url(#f1)"><rect x="753" y="74.6" width="270" height="202.4" fill="url(#g1)"/><rect x="753" y="74.6" width="270" height="202.4" fill="url(#l1)"/></g><ellipse cx="857" cy="168.7" rx="3.5" ry="3.5" fill="#283028" opacity="0.75" filter="url(#blur1)"/><ellipse cx="934" cy="173.8" rx="5.5" ry="2.8" fill="#283028" opacity="0.8" filter="url(#blur1)"/><ellipse cx="928" cy="175" rx="2.5" ry="2.5" fill="#283028" opacity="0.6" filter="url(#blur1)"/><ellipse cx="902.6" cy="210.3" rx="2.8" ry="2.8" fill="#283028" opacity="0.55" filter="url(#blur1)"/><ellipse cx="875.3" cy="246.7" rx="3.5" ry="3" fill="#283028" opacity="0.7" filter="url(#blur1)"/><ellipse cx="848" cy="220.7" rx="2.2" ry="2.2" fill="#283028" opacity="0.45" filter="url(#blur1)"/><ellipse cx="775" cy="102.3" rx="2" ry="2" fill="#283028" opacity="0.5" filter="url(#blur1)"/><ellipse cx="865" cy="188" rx="1.8" ry="1.8" fill="#283028" opacity="0.4" filter="url(#blur1)"/><ellipse cx="855" cy="178" rx="2" ry="2.5" fill="#283028" opacity="0.4" filter="url(#blur1)"/><line x1="753" y1="174" x2="1023" y2="88" stroke="#e4e6e0" stroke-width="2" opacity="0.25"/><line x1="780" y1="160" x2="960" y2="100" stroke="#e4e6e0" stroke-width="2" opacity="0.25"/><line x1="800" y1="200" x2="1023" y2="125" stroke="#e4e6e0" stroke-width="2" opacity="0.25"/></g>
<clipPath id="cpg2"><rect x="753" y="624.6" width="270" height="202.4"/></clipPath><g clip-path="url(#cpg2)"><g filter="url(#f2)"><rect x="753" y="624.6" width="270" height="202.4" fill="url(#g2)"/><rect x="753" y="624.6" width="270" height="202.4" fill="url(#l2)"/></g></g>
<clipPath id="cpg3"><rect x="758.2" y="936.7" width="269.4" height="201.8"/></clipPath><g clip-path="url(#cpg3)"><g filter="url(#f3)"><rect x="758.2" y="936.7" width="269.4" height="201.8" fill="url(#g3)"/><rect x="758.2" y="936.7" width="269.4" height="201.8" fill="url(#l3)"/></g><line x1="870" y1="936" x2="800" y2="1140" stroke="#d8d8c0" stroke-width="5" opacity="0.2"/><line x1="905" y1="936" x2="835" y2="1140" stroke="#d8d8c0" stroke-width="4" opacity="0.2"/><line x1="845" y1="936" x2="775" y2="1140" stroke="#d8d8c0" stroke-width="3" opacity="0.2"/><line x1="960" y1="936" x2="890" y2="1140" stroke="#d8d8c0" stroke-width="3" opacity="0.2"/><line x1="820" y1="936" x2="760" y2="1100" stroke="#d8d8c0" stroke-width="3" opacity="0.2"/></g>
<rect x="927.7" y="232.1" width="80.5" height="6.3" fill="#fff"/>
<text x="930.6" y="223.4" font-size="25" font-weight="normal" fill="#fff" text-anchor="start" textLength="80" lengthAdjust="spacingAndGlyphs" stroke="#fff" stroke-width="0.7">40 µm</text>
<rect x="934.2" y="811.3" width="82.2" height="5.5" fill="#fff"/>
<text x="932" y="804.6" font-size="25" font-weight="normal" fill="#fff" text-anchor="start" textLength="79" lengthAdjust="spacingAndGlyphs" stroke="#fff" stroke-width="0.7">40 µm</text>
<rect x="948.2" y="1113.4" width="79.2" height="5.6" fill="#fff"/>
<text x="948.2" y="1110.6" font-size="25" font-weight="normal" fill="#fff" text-anchor="start" textLength="77.5" lengthAdjust="spacingAndGlyphs" stroke="#fff" stroke-width="0.7">40 µm</text>
<text x="42.9" y="1225" font-size="27.8" font-weight="normal" fill="#1e1e1e" text-anchor="start" textLength="49.2" lengthAdjust="spacingAndGlyphs" stroke="#1e1e1e" stroke-width="0.45">400</text>
<text x="125.0" y="1225" font-size="27.8" font-weight="normal" fill="#1e1e1e" text-anchor="start" textLength="50.1" lengthAdjust="spacingAndGlyphs" stroke="#1e1e1e" stroke-width="0.45">600</text>
<text x="207.2" y="1225" font-size="27.8" font-weight="normal" fill="#1e1e1e" text-anchor="start" textLength="49.3" lengthAdjust="spacingAndGlyphs" stroke="#1e1e1e" stroke-width="0.45">800</text>
<text x="289.0" y="1225" font-size="27.8" font-weight="normal" fill="#1e1e1e" text-anchor="start" textLength="61.9" lengthAdjust="spacingAndGlyphs" stroke="#1e1e1e" stroke-width="0.45">1000</text>
<text x="371.0" y="1225" font-size="27.8" font-weight="normal" fill="#1e1e1e" text-anchor="start" textLength="63.0" lengthAdjust="spacingAndGlyphs" stroke="#1e1e1e" stroke-width="0.45">1200</text>
<text x="452.7" y="1225" font-size="27.8" font-weight="normal" fill="#1e1e1e" text-anchor="start" textLength="62.2" lengthAdjust="spacingAndGlyphs" stroke="#1e1e1e" stroke-width="0.45">1400</text>
<text x="534.2" y="1225" font-size="27.8" font-weight="normal" fill="#1e1e1e" text-anchor="start" textLength="63.9" lengthAdjust="spacingAndGlyphs" stroke="#1e1e1e" stroke-width="0.45">1600</text>
<text x="119.8" y="1268.6" font-size="35" fill="#1e1e1e" stroke="#1e1e1e" stroke-width="0.45" textLength="305.5" lengthAdjust="spacingAndGlyphs">Raman Shift (cm<tspan font-size="22" dy="-14">-1</tspan><tspan dy="14">)</tspan></text>
<text transform="translate(32.6,957.5) rotate(-90)" font-size="35.5" font-weight="normal" fill="#1e1e1e" stroke="#1e1e1e" stroke-width="0.45" textLength="351.5" lengthAdjust="spacingAndGlyphs">Raman Intensity (AU)</text>
</svg>
</body></html>
